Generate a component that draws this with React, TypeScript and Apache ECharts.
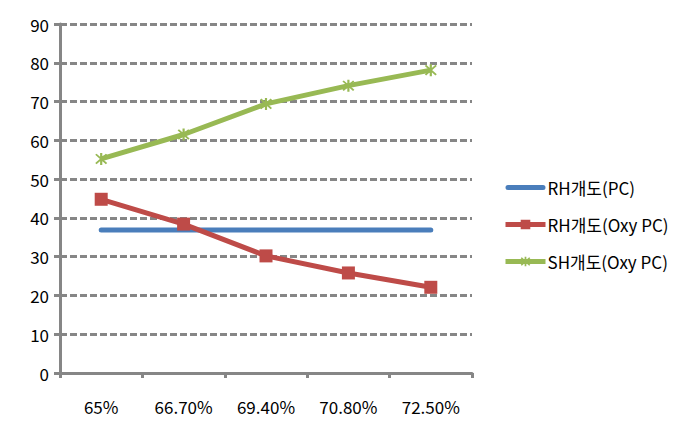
import React, { useEffect, useRef } from "react";
import * as echarts from "echarts";

const categories = ["65%", "66.70%", "69.40%", "70.80%", "72.50%"];
const rhPC = [36.9, 36.9, 36.9, 36.9, 36.9];
const rhOxy = [44.8, 38.4, 30.2, 25.8, 22.1];
const shOxy = [55.2, 61.5, 69.4, 74.1, 78.1];
const seriesNames = ["RH개도(PC)", "RH개도(Oxy PC)", "SH개도(Oxy PC)"];

const asterisk =
  "path://M4.2,0 L5.8,0 L5.8,10 L4.2,10 Z M0.6,1.6 L1.6,0.6 L9.4,8.4 L8.4,9.4 Z M8.4,0.6 L9.4,1.6 L1.6,9.4 L0.6,8.4 Z";
const barIcon =
  "path://M0,0 L40,0 L40,0.001 Z M0,12 L40,12 L40,11.999 Z M2.5,3.5 L37.5,3.5 A2.5,2.5 0 0 1 37.5,8.5 L2.5,8.5 A2.5,2.5 0 0 1 2.5,3.5 Z";

export default function App() {
  const ref = useRef<HTMLDivElement>(null);
  useEffect(() => {
    if (!ref.current) return;
    const chart = echarts.init(ref.current, null, { renderer: "svg" });
    const font = "'Noto Sans CJK KR', 'Noto Sans', sans-serif";
    chart.setOption({
      animation: false,
      textStyle: { fontFamily: font },
      grid: { left: 60, right: 214, top: 24, bottom: 55, containLabel: false },
      legend: {
        orient: "vertical",
        left: 498,
        top: 174,
        itemWidth: 40,
        itemHeight: 12,
        itemGap: 20,
        lineStyle: { width: 5 },
        textStyle: { fontSize: 17, color: "#000", fontFamily: font, padding: [0, 0, 0, -3] },
        data: [{ name: seriesNames[0], icon: barIcon }, seriesNames[1], seriesNames[2]],
      },
      xAxis: {
        type: "category",
        data: categories,
        boundaryGap: true,
        axisLine: { lineStyle: { color: "#868686", width: 3 } },
        axisTick: { show: true, length: 5, lineStyle: { color: "#868686", width: 3 } },
        axisLabel: { color: "#000", fontSize: 17, margin: 25, fontFamily: font },
      },
      yAxis: {
        type: "value",
        min: 0,
        max: 90,
        interval: 10,
        axisLine: { show: true, lineStyle: { color: "#868686", width: 3 } },
        axisTick: { show: true, length: 6, lineStyle: { color: "#868686", width: 3 } },
        axisLabel: { color: "#000", fontSize: 17, margin: 11, fontFamily: font },
        splitLine: { lineStyle: { color: "#868686", width: 3, type: [7, 3] } },
      },
      series: [
        {
          name: seriesNames[0],
          type: "line",
          data: rhPC,
          symbol: "none",
          lineStyle: { color: "#4A7EBB", width: 5, cap: "round" },
          itemStyle: { color: "#4A7EBB" },
        },
        {
          name: seriesNames[1],
          type: "line",
          data: rhOxy,
          symbol: "rect",
          symbolSize: 13,
          lineStyle: { color: "#BE4B48", width: 5 },
          itemStyle: { color: "#BE4B48" },
        },
        {
          name: seriesNames[2],
          type: "line",
          data: shOxy,
          symbol: asterisk,
          symbolSize: 12,
          lineStyle: { color: "#98B954", width: 5 },
          itemStyle: { color: "#98B954" },
        },
      ],
    });
    return () => chart.dispose();
  }, []);
  return <div ref={ref} style={{ width: 686, height: 428, position: "absolute", left: 0, top: 0 }} />;
}
